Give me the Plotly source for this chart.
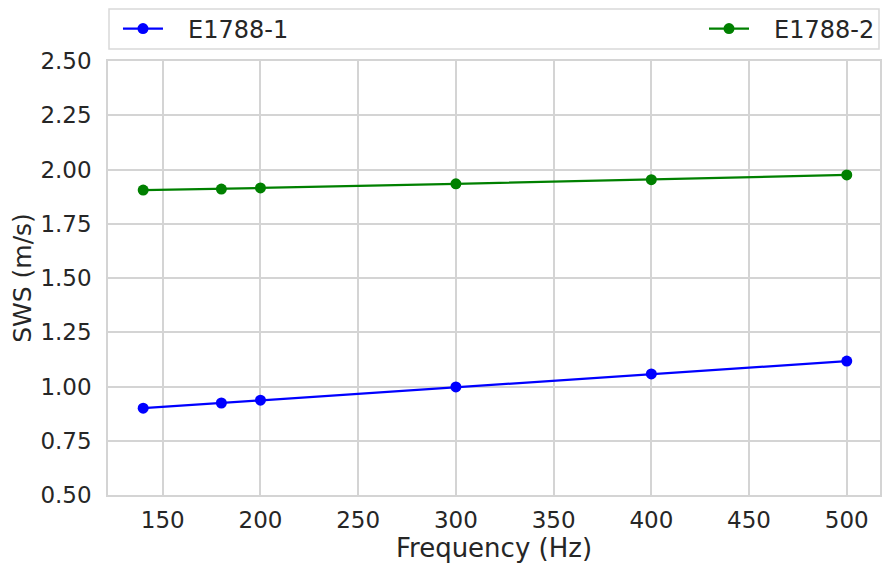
import plotly.graph_objects as go

# Shear wave speed measured at each excitation frequency
frequency_hz = [140, 180, 200, 300, 400, 500]
sws_e1788_1 = [0.90, 0.924, 0.937, 0.998, 1.058, 1.117]
sws_e1788_2 = [1.905, 1.910, 1.915, 1.934, 1.953, 1.975]
series_names = ["E1788-1", "E1788-2"]
x_ticks = [150, 200, 250, 300, 350, 400, 450, 500]
y_ticks = [0.50, 0.75, 1.00, 1.25, 1.50, 1.75, 2.00, 2.25, 2.50]

W, H = 882, 563
M_L, M_R, M_T, M_B = 108, 0, 61, 68
plot_h = H - M_T - M_B
plot_w = W - M_L - M_R

font_family = "DejaVu Sans, Verdana, sans-serif"
text_color = "#262626"
grid_color = "#d4d4d4"
PAD = "\u00a0\u00a0\u2009"

fig = go.Figure()
fig.add_trace(go.Scatter(
    x=frequency_hz, y=sws_e1788_1, name=PAD + series_names[0],
    mode="lines+markers",
    line=dict(color="#0000ff", width=2.2),
    marker=dict(color="#0000ff", size=11),
    legend="legend",
))
fig.add_trace(go.Scatter(
    x=frequency_hz, y=sws_e1788_2, name=PAD + series_names[1],
    mode="lines+markers",
    line=dict(color="#008000", width=2.2),
    marker=dict(color="#008000", size=11),
    legend="legend2",
))

def py(px):
    """Pixel row from top -> paper y."""
    return 1 + (M_T - px) / plot_h

def pxx(px):
    """Pixel column from left -> paper x."""
    return (px - M_L) / plot_w

# Legend frame spanning the width of the axes
fig.add_shape(
    type="rect", xref="paper", yref="paper",
    x0=pxx(109), x1=pxx(881), y0=py(49), y1=py(9),
    line=dict(color="#d9d9d9", width=1.5),
    fillcolor="white", layer="below",
)

legend_common = dict(
    font=dict(family=font_family, size=24, color=text_color),
    bgcolor="rgba(0,0,0,0)", borderwidth=0,
    yanchor="middle", y=py(29),
    itemwidth=40,
)

fig.update_layout(
    width=W, height=H,
    margin=dict(l=M_L, r=M_R, t=M_T, b=M_B, pad=0),
    paper_bgcolor="white", plot_bgcolor="white",
    font=dict(family=font_family, size=23, color=text_color),
    showlegend=True,
    legend=dict(**legend_common, x=pxx(118), xanchor="left"),
    legend2=dict(**legend_common, x=pxx(882), xanchor="right"),
    xaxis=dict(
        range=[122, 517],
        tickvals=x_ticks,
        ticktext=[str(v) for v in x_ticks],
        showgrid=True, gridcolor=grid_color, gridwidth=1.5,
        showline=True, linecolor=grid_color, linewidth=1.5, mirror=True,
        zeroline=False,
        ticks="", ticklabelstandoff=4,
        tickfont=dict(size=23, color=text_color),
        title=dict(text="Frequency (Hz)", font=dict(size=26, color=text_color), standoff=1),
    ),
    yaxis=dict(
        range=[0.5, 2.5],
        tickvals=y_ticks,
        ticktext=[f"{v:.2f}" for v in y_ticks],
        showgrid=True, gridcolor=grid_color, gridwidth=1.5,
        showline=True, linecolor=grid_color, linewidth=1.5, mirror=True,
        zeroline=False,
        ticks="", ticklabelstandoff=10,
        tickfont=dict(size=23, color=text_color),
        title=dict(text="SWS (m/s)", font=dict(size=25, color=text_color), standoff=2),
    ),
)

fig.write_html("out.html")
